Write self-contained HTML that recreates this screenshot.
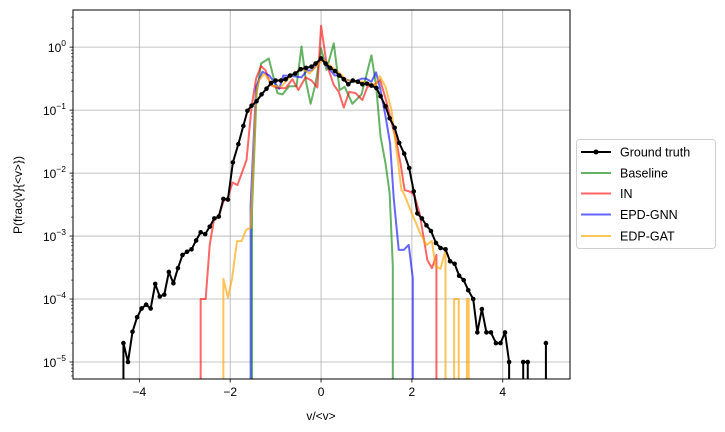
<!DOCTYPE html>
<html><head><meta charset="utf-8"><style>
html,body{margin:0;padding:0;background:#fff;width:725px;height:432px;overflow:hidden;}
svg{display:block;font-family:"Liberation Sans","DejaVu Sans",sans-serif;}
</style></head><body>
<svg id="chart" width="725" height="432" viewBox="0 0 725 432">
<defs><clipPath id="plotclip"><rect x="73" y="10" width="497" height="369"/></clipPath></defs>
<rect x="0" y="0" width="725" height="432" fill="#fff"/>
<g id="grid"></g>
<g id="series" clip-path="url(#plotclip)"></g>
<rect x="73" y="10" width="497" height="369" fill="none" stroke="#000" stroke-width="1"/>
<g id="axes"></g>
<text x="321" y="420" font-size="12" text-anchor="middle">v/&lt;v&gt;</text>
<text x="22" y="195" font-size="12" text-anchor="middle" transform="rotate(-90 22 195)">P(frac{v}{&lt;v&gt;})</text>
<g>
<rect x="576.5" y="139.5" width="139" height="109" rx="3" fill="#fff" stroke="#d0d0d0"/>
<g><line x1="581" y1="152" x2="611" y2="152" stroke="#000" stroke-width="2"/><circle cx="596" cy="152" r="2.5" fill="#000"/><text x="620" y="156.5" font-size="12.5">Ground truth</text></g>
<g><line x1="581" y1="173" x2="611" y2="173" stroke="green" stroke-opacity="0.6" stroke-width="2"/><text x="620" y="177.5" font-size="12.5">Baseline</text></g>
<g><line x1="581" y1="193.5" x2="611" y2="193.5" stroke="red" stroke-opacity="0.6" stroke-width="2"/><text x="620" y="198" font-size="12.5">IN</text></g>
<g><line x1="581" y1="214.5" x2="611" y2="214.5" stroke="blue" stroke-opacity="0.6" stroke-width="2"/><text x="620" y="219" font-size="12.5">EPD-GNN</text></g>
<g><line x1="581" y1="236" x2="611" y2="236" stroke="orange" stroke-opacity="0.65" stroke-width="2"/><text x="620" y="240.5" font-size="12.5">EDP-GAT</text></g>
</g>
</svg>
<script>
// data: x values and log10(probability); null = zero probability
const xTicks = [-4, -2, 0, 2, 4];
const yTickExps = [0, -1, -2, -3, -4, -5];
const gtX = [-4.45,-4.35,-4.25,-4.15,-4.05,-3.95,-3.85,-3.75,-3.65,-3.55,-3.45,-3.35,-3.25,-3.15,-3.05,-2.95,-2.85,-2.75,-2.65,-2.55,-2.45,-2.35,-2.25,-2.15,-2.05,-1.94,-1.82,-1.71,-1.62,-1.53,-1.42,-1.31,-1.2,-1.1,-1.0,-0.88,-0.78,-0.68,-0.57,-0.45,-0.33,-0.21,-0.12,0,0.1,0.2,0.31,0.4,0.5,0.6,0.7,0.81,0.91,1.01,1.11,1.22,1.31,1.42,1.51,1.62,1.72,1.83,1.94,2.04,2.12,2.22,2.32,2.42,2.53,2.63,2.74,2.84,2.94,3.04,3.14,3.24,3.35,3.44,3.54,3.64,3.74,3.85,3.95,4.05,4.14,4.25,4.35,4.45,4.55,4.65,4.75,4.85,4.95];
const gtY = [null,-4.70,-5.0,-4.52,-4.29,-4.15,-4.09,-4.15,-3.76,-3.96,-3.93,-3.57,-3.75,-3.51,-3.30,-3.25,-3.21,-3.07,-2.94,-2.97,-2.85,-2.72,-2.69,-2.41,-2.42,-1.83,-1.54,-1.25,-1.01,-0.93,-0.86,-0.75,-0.66,-0.57,-0.53,-0.53,-0.51,-0.45,-0.42,-0.35,-0.33,-0.31,-0.26,-0.18,-0.26,-0.33,-0.38,-0.45,-0.51,-0.59,-0.53,-0.55,-0.59,-0.58,-0.61,-0.65,-0.78,-0.94,-1.13,-1.28,-1.52,-1.69,-1.92,-2.29,-2.64,-2.72,-2.83,-2.92,-3.11,-3.19,-3.21,-3.40,-3.44,-3.63,-3.70,-3.86,-4.0,-4.53,-4.16,-4.53,-4.53,-4.70,-4.70,-4.53,-5.0,null,null,-5.0,-5.0,null,null,null,-4.70];
const baseX = [-1.6,-1.52,-1.42,-1.32,-1.15,-0.96,-0.85,-0.70,-0.54,-0.43,-0.33,-0.23,-0.12,0,0.12,0.28,0.41,0.52,0.69,0.89,1.11,1.21,1.31,1.42,1.51,1.58,1.6,1.7];
const baseY = [null,-2.6,-0.75,-0.26,-0.18,-0.73,-0.75,-0.62,-0.62,0.01,-0.55,-0.90,-0.58,-0.02,-0.36,0.06,-0.68,-0.63,-0.90,-0.75,-0.13,-0.60,-1.42,-1.85,-2.32,-3.48,null,null];
const inX = [-2.75,-2.65,-2.54,-2.45,-2.36,-2.25,-2.15,-2.05,-1.95,-1.84,-1.64,-1.53,-1.43,-1.32,-1.22,-1.11,-0.96,-0.78,-0.63,-0.50,-0.34,-0.21,-0.08,0,0.12,0.28,0.39,0.50,0.62,0.76,0.91,1.02,1.17,1.30,1.43,1.54,1.65,1.75,1.84,1.98,2.06,2.17,2.34,2.44,2.54,2.64];
const inY = [null,-4.0,-4.0,-3.14,-2.75,-2.69,-2.45,-2.39,-2.15,-2.19,-1.79,-0.95,-0.50,-0.30,-0.37,-0.60,-0.65,-0.65,-0.51,-0.68,-0.48,-0.53,-0.64,0.34,-0.26,-0.60,-0.71,-0.96,-0.71,-0.73,-0.84,-0.63,-0.60,-0.52,-0.84,-1.16,-1.47,-1.85,-2.27,-2.30,-2.37,-2.64,-3.38,-3.51,-3.30,null];
const gnnX = [-1.65,-1.55,-1.43,-1.29,-1.14,-0.92,-0.83,-0.62,-0.43,-0.31,-0.20,0,0.12,0.30,0.41,0.56,0.74,0.89,0.99,1.11,1.21,1.30,1.41,1.52,1.60,1.71,1.82,1.93,2.02,2.12];
const gnnY = [null,-2.5,-0.63,-0.39,-0.45,-0.66,-0.45,-0.46,-0.48,-0.37,-0.37,-0.18,-0.29,-0.45,-0.45,-0.52,-0.55,-0.50,-0.50,-0.55,-0.40,-0.65,-1.06,-1.53,-2.4,-3.22,-3.22,-3.14,-3.67,null];
const gatX = [-2.25,-2.15,-2.05,-1.96,-1.85,-1.75,-1.65,-1.55,-1.43,-1.36,-1.25,-1.07,-0.88,-0.72,-0.59,-0.42,-0.26,-0.11,0.04,0.19,0.37,0.56,0.74,0.92,1.11,1.20,1.29,1.42,1.55,1.66,1.77,1.81,2.0,2.18,2.32,2.44,2.52,2.63,2.74,2.84,2.93,3.03,3.12,3.21,3.25,3.35];
const gatY = [null,-3.68,-3.98,-3.68,-3.08,-3.08,-2.90,-2.87,-0.75,-0.52,-0.42,-0.61,-0.63,-0.50,-0.42,-0.33,-0.42,-0.31,-0.2,-0.29,-0.39,-0.52,-0.55,-0.55,-0.58,-0.61,-0.46,-0.63,-1.00,-1.63,-2.27,-2.3,-2.64,-2.95,-3.14,-3.08,-3.48,-3.52,-3.22,null,-4.0,-4.0,null,-4.0,-4.0,null];

const X0=73,X1=570,Y0=10,Y1=379;
const xmin=-5.46,xmax=5.48, lmax=0.59, lmin=-5.27;
function sx(v){return X0+(v-xmin)/(xmax-xmin)*(X1-X0);}
function sy(l){return Y0+(lmax-l)/(lmax-lmin)*(Y1-Y0);}
const NS="http://www.w3.org/2000/svg";
function mk(tag,attrs,parent){const e=document.createElementNS(NS,tag);for(const k in attrs)e.setAttribute(k,attrs[k]);parent.appendChild(e);return e;}
const grid=document.getElementById('grid'), axes=document.getElementById('axes'), series=document.getElementById('series');
xTicks.forEach(t=>{
  const gl=mk('line',{x1:sx(t),x2:sx(t),y1:Y0,y2:Y1,stroke:'#b0b0b0','stroke-width':0.8},grid);
  
  
  mk('line',{x1:sx(t),x2:sx(t),y1:Y1,y2:Y1+3.5,stroke:'#000','stroke-width':0.8},axes);
  const tx=mk('text',{x:sx(t),y:Y1+17,'font-size':12,'text-anchor':'middle'},axes);
  tx.textContent=(t<0?'\u2212':'')+Math.abs(t);
  
  
});
yTickExps.forEach(e=>{
  const y=sy(e);
  const gl=mk('line',{x1:X0,x2:X1,y1:y,y2:y,stroke:'#b0b0b0','stroke-width':0.8},grid);
  
  
  mk('line',{x1:X0-3.5,x2:X0,y1:y,y2:y,stroke:'#000','stroke-width':0.8},axes);
  const tx=mk('text',{x:X0-7,y:y+5,'font-size':12,'text-anchor':'end'},axes);
  
  
  const a=document.createElementNS(NS,'tspan');a.textContent='10';tx.appendChild(a);
  const b=document.createElementNS(NS,'tspan');b.setAttribute('dy','-6');b.setAttribute('font-size','8.5');b.textContent=(e<0?'\u2212':'')+Math.abs(e);tx.appendChild(b);
});
for(let d=1;d>=-6;d--){for(let m=2;m<10;m++){const l=d+Math.log10(m)-1;if(l>lmax||l<lmin)continue;mk('line',{x1:X0-2,x2:X0,y1:sy(l),y2:sy(l),stroke:'#000','stroke-width':0.6},axes);}}
function drawLine(xs,ys,color,op,name){
  // zero values drop vertically to just below the axis bottom
  const pts=[];
  xs.forEach((x,i)=>{
    if(ys[i]!==null){pts.push([sx(x),sy(ys[i])]);return;}
    if(i>0&&ys[i-1]!==null)pts.push([sx(xs[i-1]),Y1+2]);
    if(i<xs.length-1&&ys[i+1]!==null)pts.push([sx(xs[i+1]),Y1+2]);
  });
  const p=mk('polyline',{points:pts.map(q=>q[0].toFixed(2)+','+q[1].toFixed(2)).join(' '),fill:'none',stroke:color,'stroke-opacity':op,'stroke-width':2,'stroke-linejoin':'round'},series);
  
  
}
drawLine(baseX,baseY,'green',0.6,'baseline-line');
drawLine(inX,inY,'red',0.6,'in-line');
drawLine(gnnX,gnnY,'blue',0.6,'epd-gnn-line');
drawLine(gatX,gatY,'orange',0.65,'edp-gat-line');
drawLine(gtX,gtY,'#000',1,'ground-truth-line');
gtX.forEach((x,i)=>{if(gtY[i]===null)return;
  const c=mk('circle',{cx:sx(x),cy:sy(gtY[i]),r:2.3,fill:'#000'},series);
  
  
});
</script>
</body></html>
